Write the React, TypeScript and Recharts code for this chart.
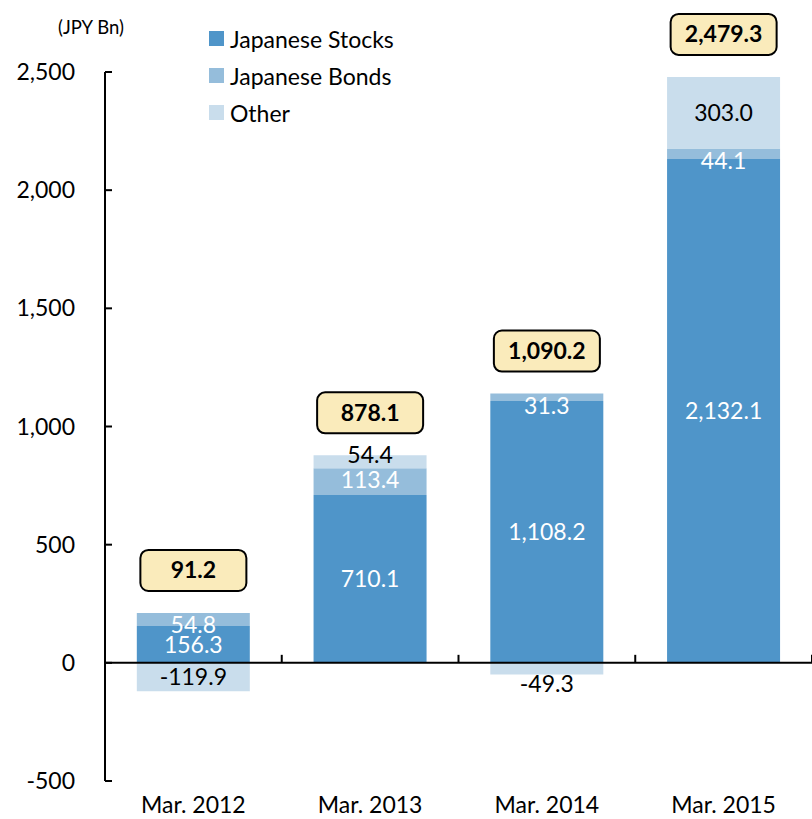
import React from "react";
import {
  ComposedChart,
  Bar,
  Line,
  XAxis,
  YAxis,
  ReferenceLine,
  Legend,
  LabelList,
} from "recharts";

// values in JPY Bn
const categories = ["Mar. 2012", "Mar. 2013", "Mar. 2014", "Mar. 2015"];
const japaneseStocks = [156.3, 710.1, 1108.2, 2132.1];
const japaneseBonds = [54.8, 113.4, 31.3, 44.1];
const other = [-119.9, 54.4, -49.3, 303.0];
const totals = [91.2, 878.1, 1090.2, 2479.3];
const yTicks = [-500, 0, 500, 1000, 1500, 2000, 2500];

const FONT = "Lato, 'Open Sans', sans-serif";
const colors = {
  stocks: "#4F95C9",
  bonds: "#95BDDB",
  other: "#C9DDEC",
};

// legend order as in the reference
const legendItems = [
  { name: "Japanese Stocks", color: colors.stocks },
  { name: "Japanese Bonds", color: colors.bonds },
  { name: "Other", color: colors.other },
];

const data = categories.map((name, i) => ({
  name,
  stocks: japaneseStocks[i],
  bonds: japaneseBonds[i],
  other: other[i],
  // top of the positive stack, used to place the total box
  top: japaneseStocks[i] + japaneseBonds[i] + Math.max(other[i], 0),
}));

const fmt = (v: number, digits = 1) =>
  Number(v).toLocaleString("en-US", {
    minimumFractionDigits: digits,
    maximumFractionDigits: digits,
  });

const YTick = (props: any) => {
  const { x, y, payload } = props;
  return (
    <g>
      <line x1={x + 30} x2={x + 37} y1={y} y2={y} stroke="#000" strokeWidth={2} />
      <text
        x={x}
        y={y}
        dy="0.35em"
        textAnchor="end"
        fontSize={23}
        fontFamily={FONT}
        fill="#000"
      >
        {fmt(payload.value, 0)}
      </text>
    </g>
  );
};

// zero line with small category boundary ticks pointing up
const ZeroLine = (props: any) => {
  const { x1, x2, y1 } = props;
  const step = (x2 - x1) / categories.length;
  return (
    <g>
      <line x1={x1} x2={x2} y1={y1} y2={y1} stroke="#000" strokeWidth={2} />
      {categories.map((_, i) => (
        <line
          key={i}
          x1={x1 + step * (i + 1)}
          x2={x1 + step * (i + 1)}
          y1={y1}
          y2={y1 - 8}
          stroke="#000"
          strokeWidth={2}
        />
      ))}
    </g>
  );
};

// bonds labels hang just under the top edge of their (thin) segment
const BondsLabel = (props: any) => {
  const { x, y, width, value } = props;
  return (
    <text
      x={x + width / 2}
      y={y + 12}
      dy="0.35em"
      textAnchor="middle"
      fontSize={23}
      fontFamily={FONT}
      fill="#fff"
    >
      {fmt(value)}
    </text>
  );
};

// "Other" labels: centred, but thin segments get the label on their outer edge
const OtherLabel = (props: any) => {
  const { x, y, width, height, value } = props;
  const thin = Math.abs(height) < 20;
  const cy = thin ? y + (value < 0 ? 9 : 0) : y + height / 2;
  return (
    <text
      x={x + width / 2}
      y={cy}
      dy="0.35em"
      textAnchor="middle"
      fontSize={23}
      fontFamily={FONT}
      fill="#000"
    >
      {fmt(value)}
    </text>
  );
};

const TotalBox = (props: any) => {
  const { x, y, index } = props;
  const w = 106;
  const h = 41;
  const bottom = y - 22;
  return (
    <g>
      <rect
        x={x - w / 2}
        y={bottom - h}
        width={w}
        height={h}
        rx={8}
        ry={8}
        fill="#FAEBBB"
        stroke="#000"
        strokeWidth={2}
      />
      <text
        x={x}
        y={bottom - h / 2}
        dy="0.35em"
        textAnchor="middle"
        fontSize={23}
        fontWeight={700}
        fontFamily={FONT}
        fill="#000"
      >
        {fmt(totals[index])}
      </text>
    </g>
  );
};

const LegendContent = () => (
  <div style={{ fontFamily: FONT, fontSize: 23, color: "#000" }}>
    {legendItems.map((p) => (
      <div key={p.name} style={{ display: "flex", alignItems: "center", height: 37 }}>
        <span
          style={{
            display: "inline-block",
            width: 15,
            height: 15,
            background: p.color,
            marginRight: 6,
          }}
        />
        {p.name}
      </div>
    ))}
  </div>
);

export default function App() {
  return (
    <div style={{ position: "relative", width: 812, height: 819, fontFamily: FONT }}>
      <style>{`body{margin:0}`}</style>
      <div
        style={{
          position: "absolute",
          left: 58,
          top: 16,
          fontSize: 18.5,
          fontFamily: FONT,
          color: "#000",
          zIndex: 2,
        }}
      >
        (JPY Bn)
      </div>
      <ComposedChart
        width={812}
        height={819}
        data={data}
        stackOffset="sign"
        barCategoryGap="18%"
        margin={{ top: 72, right: 0, bottom: 0, left: 0 }}
      >
        <XAxis
          dataKey="name"
          axisLine={false}
          tickLine={false}
          tickSize={0}
          tickMargin={16}
          height={38}
          tick={{ fill: "#000", fontSize: 23, fontFamily: FONT }}
        />
        <YAxis
          domain={[-500, 2500]}
          ticks={yTicks}
          width={105}
          tickSize={0}
          tickMargin={30}
          tickLine={false}
          axisLine={{ stroke: "#000", strokeWidth: 2 }}
          tick={<YTick />}
          allowDataOverflow
        />
        <Legend
          layout="horizontal"
          verticalAlign="middle"
          align="center"
          content={<LegendContent />}
          wrapperStyle={{ left: 209, top: 20, width: 240, height: 115 }}
        />
        <Bar
          dataKey="stocks"
          name="Japanese Stocks"
          stackId="a"
          fill={colors.stocks}
          isAnimationActive={false}
        >
          <LabelList
            dataKey="stocks"
            position="center"
            formatter={(v: any) => fmt(v)}
            fill="#fff"
            fontSize={23}
            fontFamily={FONT}
          />
        </Bar>
        <Bar
          dataKey="bonds"
          name="Japanese Bonds"
          stackId="a"
          fill={colors.bonds}
          isAnimationActive={false}
        >
          <LabelList dataKey="bonds" content={<BondsLabel />} />
        </Bar>
        <Bar
          dataKey="other"
          name="Other"
          stackId="a"
          fill={colors.other}
          isAnimationActive={false}
        >
          <LabelList dataKey="other" content={<OtherLabel />} />
        </Bar>
        <ReferenceLine y={0} shape={<ZeroLine />} />
        <Line
          dataKey="top"
          stroke="none"
          dot={false}
          activeDot={false}
          legendType="none"
          isAnimationActive={false}
          label={<TotalBox />}
        />
      </ComposedChart>
    </div>
  );
}
